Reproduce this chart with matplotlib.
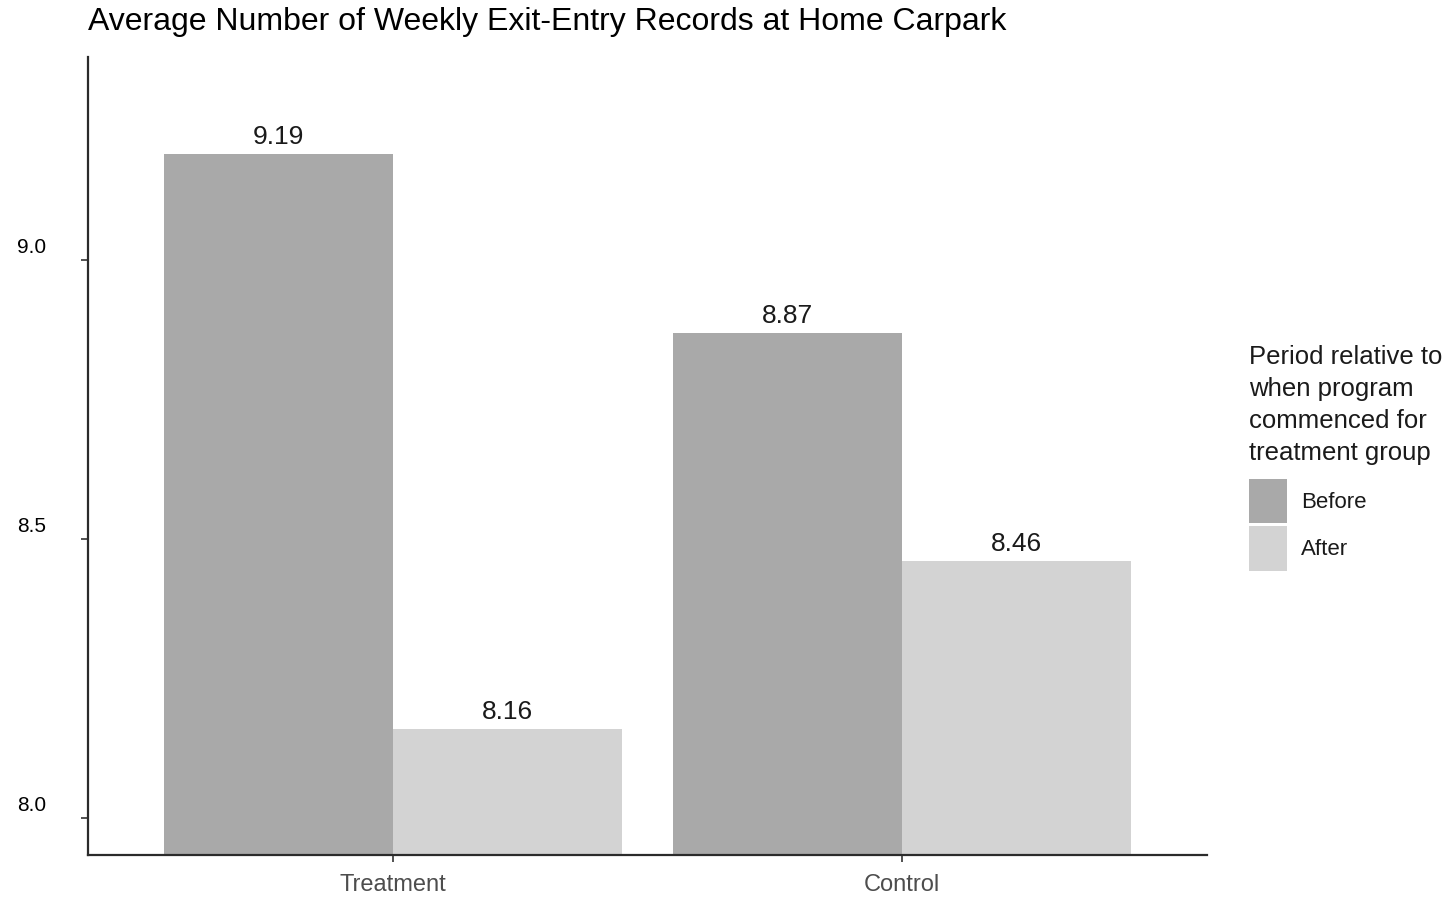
import matplotlib.pyplot as plt
import numpy as np
from matplotlib.patches import Patch
from matplotlib.transforms import ScaledTranslation

# data
groups = ["Treatment", "Control"]
periods = ["Before", "After"]
before_vals = [9.19, 8.87]
after_vals = [8.16, 8.46]
yticks = [8.0, 8.5, 9.0]

colors = {"Before": "#A9A9A9", "After": "#D3D3D3"}
sans = ["Liberation Sans Narrow", "Liberation Sans", "DejaVu Sans"]

fig = plt.figure(figsize=(14.47, 8.97), dpi=100)
ax = fig.add_axes([88 / 1447, 1 - 855 / 897, (1207 - 88) / 1447, (855 - 57) / 897])

x = np.arange(1, len(groups) + 1)
width = 0.45
ymin = 7.9337
for vals, period, off in [(before_vals, "Before", -width / 2), (after_vals, "After", width / 2)]:
    ax.bar(x + off, np.array(vals) - ymin, width, bottom=ymin,
           color=colors[period], linewidth=0)
    for xi, v in zip(x + off, vals):
        ax.text(xi, v + 0.009, f"{v:.2f}", ha="center", va="bottom",
                fontsize=19, family=sans, color="#1a1a1a")

ax.set_xlim(0.4, 2.6)
ax.set_ylim(ymin, 9.3638)
ax.set_xticks(x)
ax.set_xticklabels(groups, family=sans, fontsize=17, color="#4d4d4d")
ax.set_yticks(yticks)
ax.set_yticklabels([f"{t:.1f}" for t in yticks], fontsize=15, color="black",
                   family=["Liberation Sans", "DejaVu Sans"])
ax.tick_params(axis="y", length=5, width=1.2, color="#333333", pad=25)
ax.tick_params(axis="x", length=5, width=1.2, color="#333333", pad=9)
for lbl in ax.get_yticklabels():
    lbl.set_transform(lbl.get_transform() + ScaledTranslation(0, 0.15, fig.dpi_scale_trans))

for side in ["top", "right"]:
    ax.spines[side].set_visible(False)
for side in ["left", "bottom"]:
    ax.spines[side].set_linewidth(1.6)
    ax.spines[side].set_color("#2b2b2b")

fig.text(88 / 1447, 1 - 22 / 897, "Average Number of Weekly Exit-Entry Records at Home Carpark",
         ha="left", va="center", fontsize=23, family=sans, color="black")

handles = [Patch(facecolor=colors[p], edgecolor="none") for p in periods]
leg = fig.legend(handles, periods, loc="upper left",
                 bbox_to_anchor=(1240 / 1447, 1 - 336 / 897),
                 title="Period relative to\nwhen program\ncommenced for\ntreatment group",
                 frameon=False, alignment="left", prop={"family": sans, "size": 16},
                 handlelength=1.71, handleheight=2.7, labelspacing=0.15,
                 handletextpad=0.62, borderaxespad=0)
leg.get_title().set_fontfamily(sans)
leg.get_title().set_fontsize(18.5)
leg.get_title().set_color("#1a1a1a")
leg.get_title().set_linespacing(1.42)
leg._legend_box.sep = 10
for t in leg.get_texts():
    t.set_color("#1a1a1a")

fig.savefig("out.png", dpi=100)
